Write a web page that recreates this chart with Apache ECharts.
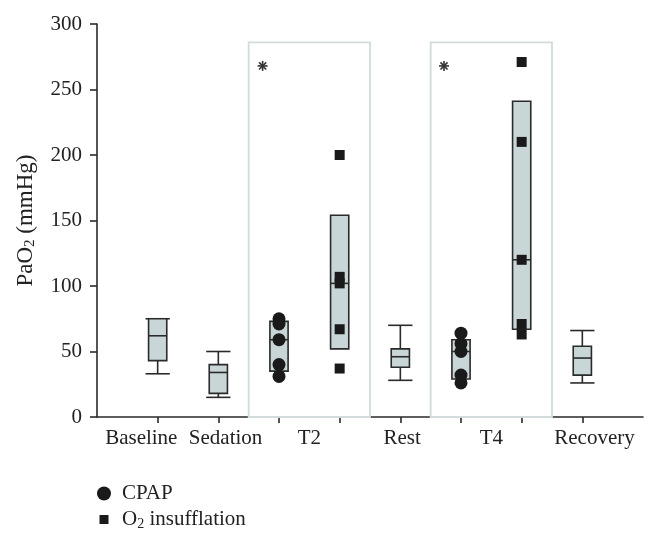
<!DOCTYPE html>
<html><head><meta charset="utf-8">
<script src="https://cdn.jsdelivr.net/npm/echarts@6/dist/echarts.min.js"></script>
<style>html,body{margin:0;padding:0;background:#fff}#c{width:657px;height:542px}</style>
</head><body><div id="c"></div>
<script>
// ---- data ----
const tickPositions = [1, 2, 3, 4, 5, 6, 7, 8];
const labelPositions = [0.73, 2.12, 3.5, 5.03, 6.5, 8.2];
const xLabels = ['Baseline', 'Sedation', 'T2', 'Rest', 'T4', 'Recovery'];

const boxX    = [1, 2, 3, 4, 5, 6, 7, 8];
const boxLow  = [33, 15, null, null, 28, null, null, 26];
const boxQ1   = [43, 18, 35, 52, 38, 29, 67, 32];
const boxMed  = [62, 34, 59, 102, 46, 50, 120, 45];
const boxQ3   = [75, 40, 73, 154, 52, 59, 241, 54];
const boxHigh = [75, 50, null, null, 70, null, null, 66];

const cpapX = [3, 3, 3, 3, 3, 6, 6, 6, 6, 6];
const cpapY = [75, 71, 59, 40, 31, 64, 56, 50, 32, 26];
const o2X   = [4, 4, 4, 4, 4, 7, 7, 7, 7, 7];
const o2Y   = [200, 107, 102, 67, 37, 271, 210, 120, 71, 63];

const frameX0 = [2.5, 5.5];
const frameX1 = [4.5, 7.5];
const frameTop = [286, 286];
const starX = [2.73, 5.72];
const starY = [268, 268];

// ---- chart ----
const FONT = '"Liberation Serif", "DejaVu Serif", serif';
const INK = '#2a2a2a';
const chart = echarts.init(document.getElementById('c'), null, {renderer: 'canvas'});

function renderBox(params, api) {
  const i = params.dataIndex;
  const x = boxX[i];
  const cx = api.coord([x, boxMed[i]])[0];
  const bw = api.size([0.3, 0])[0];
  const cw = api.size([0.4, 0])[0];
  const yq1 = api.coord([x, boxQ1[i]])[1];
  const yq3 = api.coord([x, boxQ3[i]])[1];
  const ym = api.coord([x, boxMed[i]])[1];
  const ls = {stroke: INK, lineWidth: 1.6};
  const ch = [];
  if (boxHigh[i] != null) {
    const yh = api.coord([x, boxHigh[i]])[1];
    ch.push({type: 'line', shape: {x1: cx, y1: yq3, x2: cx, y2: yh}, style: ls});
    ch.push({type: 'line', shape: {x1: cx - cw / 2, y1: yh, x2: cx + cw / 2, y2: yh}, style: ls});
  }
  if (boxLow[i] != null) {
    const yl = api.coord([x, boxLow[i]])[1];
    ch.push({type: 'line', shape: {x1: cx, y1: yq1, x2: cx, y2: yl}, style: ls});
    ch.push({type: 'line', shape: {x1: cx - cw / 2, y1: yl, x2: cx + cw / 2, y2: yl}, style: ls});
  }
  ch.push({type: 'rect', shape: {x: cx - bw / 2, y: yq3, width: bw, height: yq1 - yq3},
           style: {fill: '#c9d6d7', stroke: INK, lineWidth: 1.6}});
  ch.push({type: 'line', shape: {x1: cx - bw / 2, y1: ym, x2: cx + bw / 2, y2: ym}, style: ls});
  return {type: 'group', children: ch};
}

function renderStar(params, api) {
  const i = params.dataIndex;
  const p = api.coord([starX[i], starY[i]]);
  const r = 5;
  const ch = [];
  for (let k = 0; k < 4; k++) {
    const a = k * Math.PI / 4;
    ch.push({type: 'line', shape: {x1: p[0] - r * Math.sin(a), y1: p[1] - r * Math.cos(a),
             x2: p[0] + r * Math.sin(a), y2: p[1] + r * Math.cos(a)},
             style: {stroke: '#333', lineWidth: 1.6}});
  }
  return {type: 'group', children: ch};
}

const subStyle = {fontFamily: FONT, fontSize: 14, padding: [9, 0, 0, 0], color: '#222'};

const option = {
  backgroundColor: '#fff',
  animation: false,
  grid: {left: 97, right: 14, top: 24, bottom: 125, containLabel: false},
  legend: {
    orient: 'vertical', left: 97, top: 483, padding: 0,
    itemWidth: 20, itemHeight: 14, itemGap: 5,
    data: [
      {name: 'CPAP', icon: 'path://M0,0M20,14M0,7a7,7 0 1,0 14,0a7,7 0 1,0 -14,0z'},
      {name: 'O2 insufflation', icon: 'path://M0,0M20,14M2.5,2.5h9v9h-9z'}
    ],
    formatter: n => n === 'CPAP' ? 'CPAP' : 'O{sub|2} insufflation',
    textStyle: {fontFamily: FONT, fontSize: 21, color: '#222', rich: {sub: subStyle}}
  },
  xAxis: {
    type: 'value', min: 0, max: 9,
    axisLine: {lineStyle: {color: INK, width: 1.6}},
    axisTick: {show: true, length: 6, customValues: tickPositions, lineStyle: {color: INK, width: 1.6}},
    axisLabel: {customValues: labelPositions, showMinLabel: true, showMaxLabel: true,
      margin: 11, fontFamily: FONT, fontSize: 21, color: '#222',
      formatter: v => { const k = labelPositions.indexOf(v); return k >= 0 ? xLabels[k] : ''; }},
    splitLine: {show: false}
  },
  yAxis: {
    type: 'value', min: 0, max: 300, interval: 50,
    name: 'PaO{sub|2} (mmHg)', nameLocation: 'middle', nameGap: 59, nameRotate: 90,
    nameTextStyle: {fontFamily: FONT, fontSize: 23, color: '#222',
      rich: {sub: {fontFamily: FONT, fontSize: 15, padding: [10, 0, 0, 0], color: '#222'}}},
    axisLine: {show: true, lineStyle: {color: INK, width: 1.6}},
    axisTick: {show: true, length: 7, lineStyle: {color: INK, width: 1.6}},
    axisLabel: {margin: 15, fontFamily: FONT, fontSize: 21, color: '#222'},
    splitLine: {show: false}
  },
  series: [
    {
      type: 'custom', name: 'frames', silent: true,
      data: [], renderItem: () => null,
      markArea: {
        silent: true,
        itemStyle: {color: 'rgba(0,0,0,0)', borderColor: '#d2dcdc', borderWidth: 1.8},
        data: frameX0.map((x0, i) => [{xAxis: x0, yAxis: 0}, {xAxis: frameX1[i], yAxis: frameTop[i]}])
      }
    },
    {
      type: 'custom', name: 'boxes', silent: true,
      data: boxX.map((x, i) => [x, boxQ1[i], boxQ3[i]]),
      encode: {x: 0, y: [1, 2]},
      renderItem: renderBox, z: 3
    },
    {
      type: 'custom', name: 'stars', silent: true,
      data: starX.map((x, i) => [x, starY[i]]),
      encode: {x: 0, y: 1},
      renderItem: renderStar, z: 3
    },
    {
      type: 'scatter', name: 'CPAP', symbol: 'circle', symbolSize: 13, z: 5,
      itemStyle: {color: '#1a1a1a', opacity: 1},
      data: cpapX.map((x, i) => [x, cpapY[i]])
    },
    {
      type: 'scatter', name: 'O2 insufflation', symbol: 'rect', symbolSize: 10, z: 5,
      itemStyle: {color: '#1a1a1a', opacity: 1},
      data: o2X.map((x, i) => [x, o2Y[i]])
    }
  ]
};
chart.setOption(option);
</script></body></html>
